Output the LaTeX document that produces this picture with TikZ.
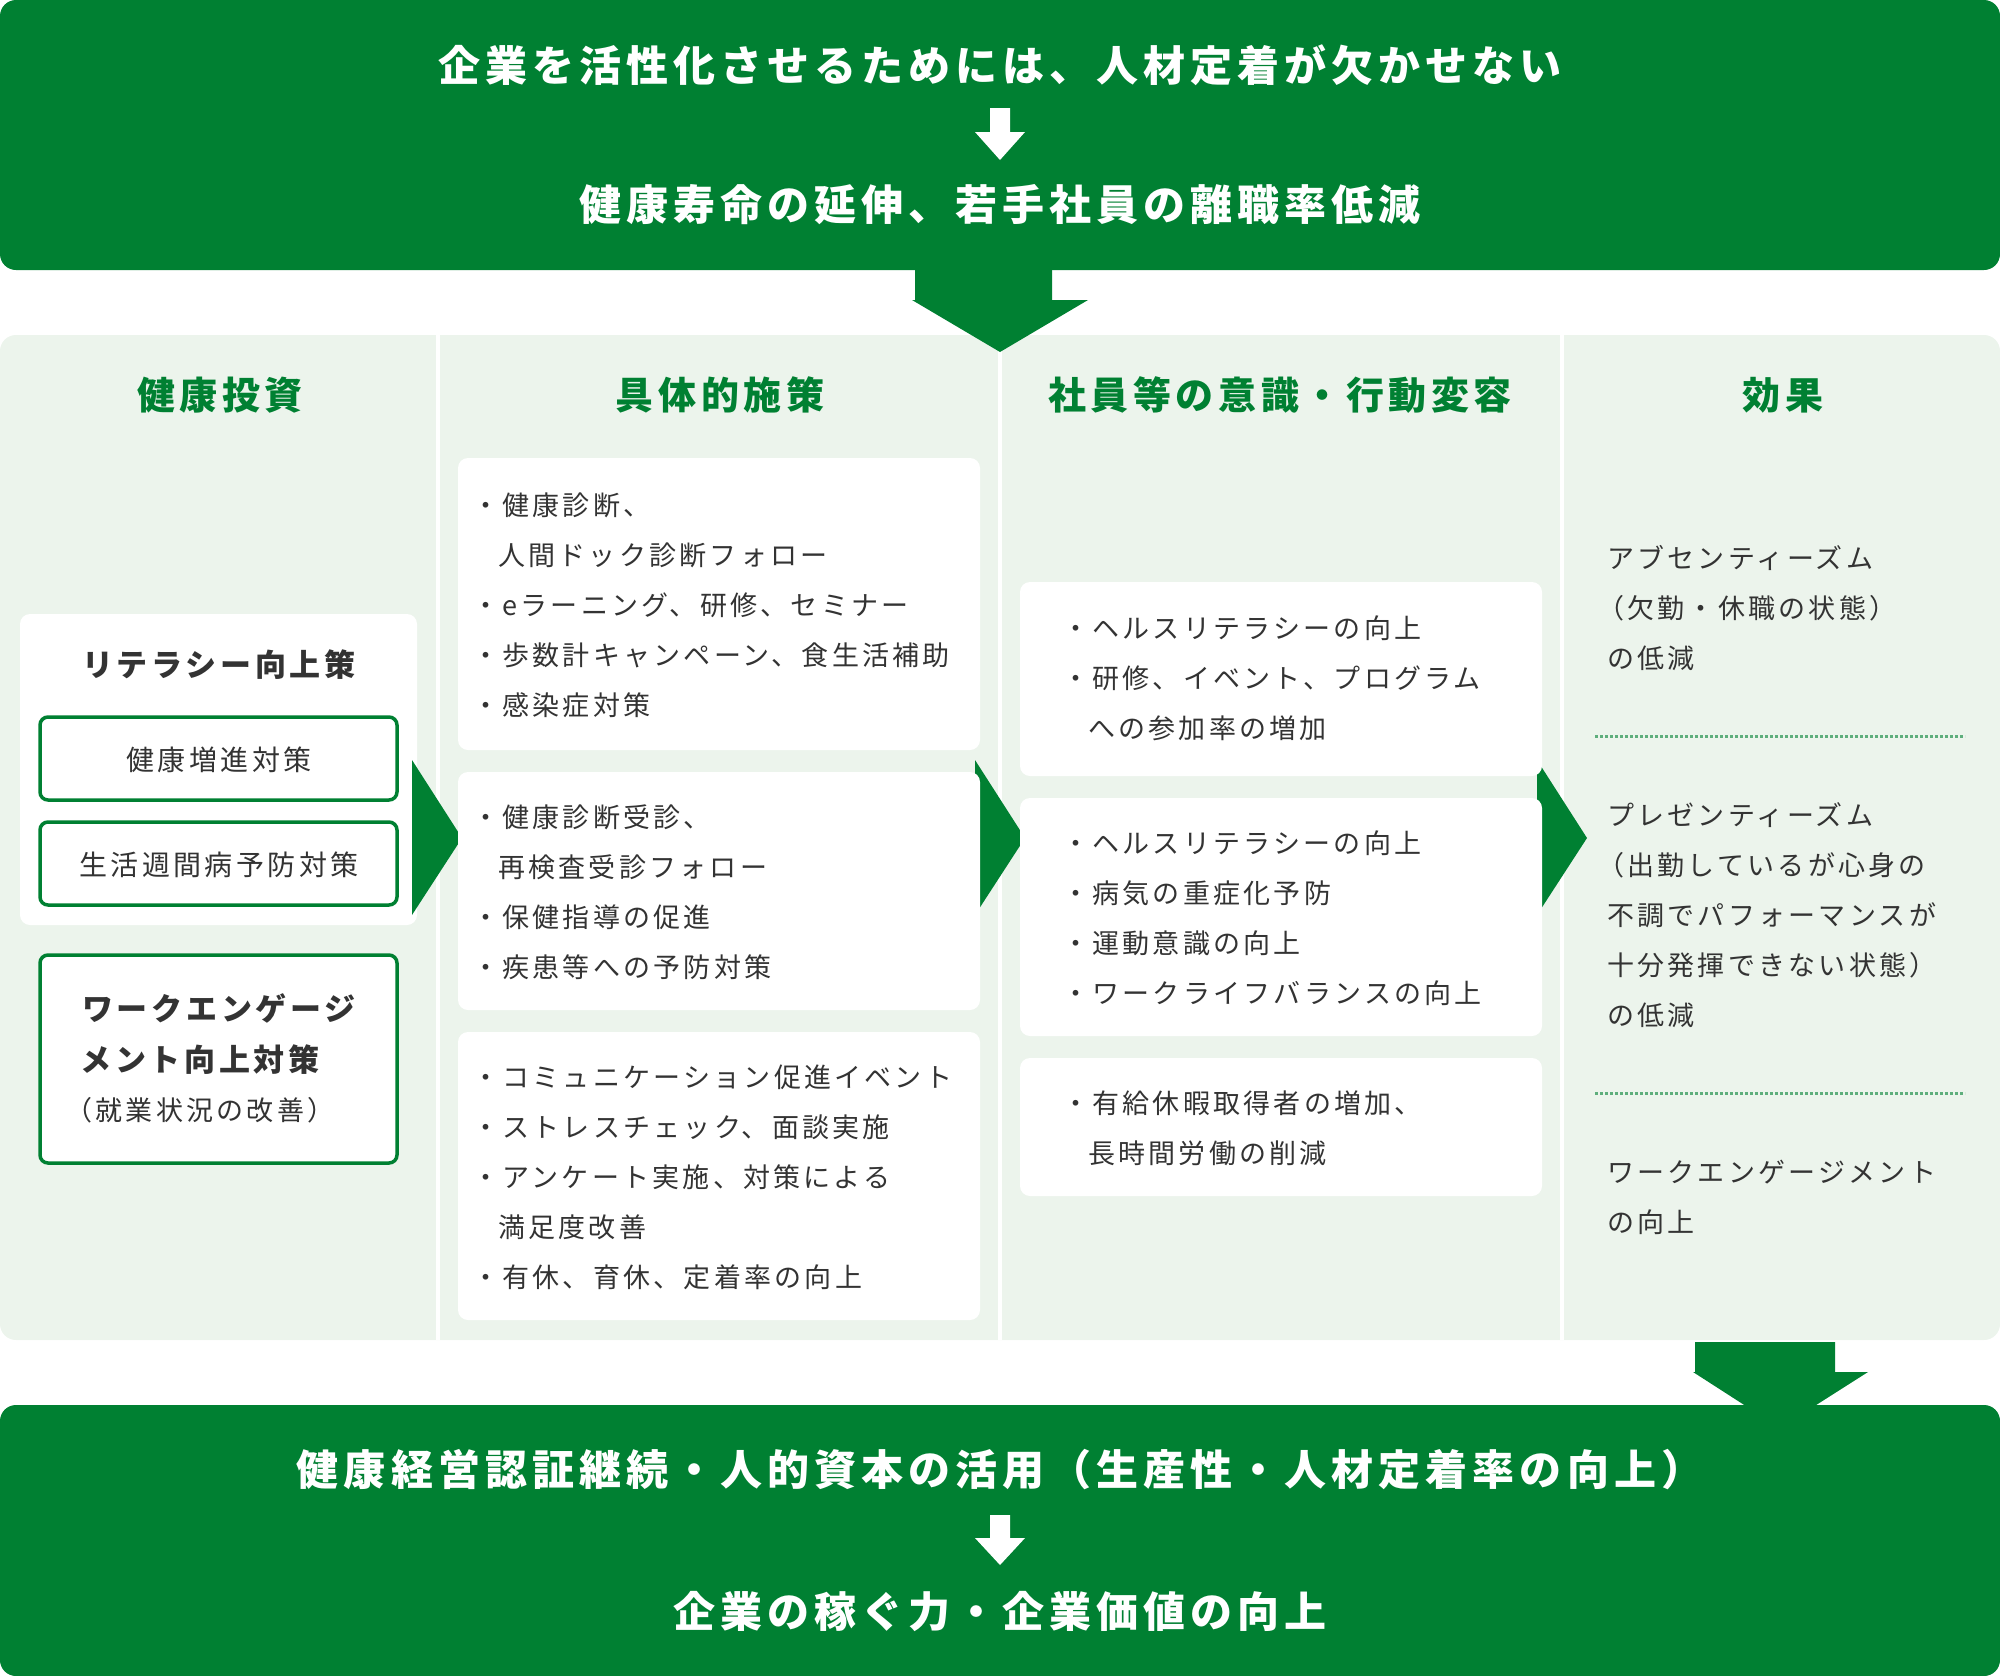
\documentclass[tikz,border=0pt]{standalone}
\usepackage{fontspec}
\setmainfont{Noto Sans CJK JP}[LetterSpace=12]
\definecolor{gr}{RGB}{0,128,50}
\definecolor{pale}{RGB}{236,244,236}
\definecolor{tx}{RGB}{51,51,51}
\begin{document}
\begin{tikzpicture}[x=1pt,y=-1pt,
  ban/.style={text=white,font=\fontsize{42}{42}\selectfont\bfseries,inner sep=0},
  hd/.style={text=gr,font=\fontsize{38}{38}\selectfont\bfseries,inner sep=0},
  bl/.style={text=tx,font=\fontsize{27}{27}\selectfont,anchor=west,inner sep=0},
  wb/.style={fill=white,rounded corners=10pt},
  gb/.style={draw=gr,line width=3.5pt,fill=white,rounded corners=8pt},
  wa/.style={fill=white},
  ga/.style={fill=gr}]
\useasboundingbox (0,0) rectangle (2000,1676);
% top banner
\fill[gr,rounded corners=16pt] (0,0) rectangle (2000,270);
\node[ban] (t1) at (1000,65) {企業を活性化させるためには、人材定着が欠かせない};
\node[ban] (t2) at (1000,205) {健康寿命の延伸、若手社員の離職率低減};
\fill[wa] (990,108)--(1010,108)--(1010,132)--(1025,132)--(1000,160)--(975,132)--(990,132)--cycle;
% panel
\fill[pale,rounded corners=16pt] (0,335) rectangle (2000,1340);
\foreach \x in {438,1000,1562} \fill[white] (\x-2,335) rectangle (\x+2,1340);
\fill[gr] (915,270)--(1052,270)--(1052,300)--(1088,300)--(1000,352)--(912,300)--(915,300)--cycle;
% headers
\node[hd] (h1) at (220,395) {健康投資};
\node[hd] (h2) at (720,395) {具体的施策};
\node[hd] (h3) at (1280,395) {社員等の意識・行動変容};
\node[hd] (h4) at (1783,395) {効果};
% col1
\fill[wb] (20,614) rectangle (417,925);
\node[text=tx,font=\fontsize{31}{31}\selectfont\bfseries,inner sep=0] (lit) at (219,665) {リテラシー向上策};
\draw[gb] (40,717) rectangle (397,800);
\node[text=tx,font=\fontsize{28}{28}\selectfont,inner sep=0] (k1) at (219,760) {健康増進対策};
\draw[gb] (40,822) rectangle (397,905);
\node[text=tx,font=\fontsize{28}{28}\selectfont,inner sep=0] (k2) at (219,865) {生活週間病予防対策};
\draw[gb] (40,955) rectangle (397,1163);
\node[text=tx,font=\fontsize{31}{31}\selectfont\bfseries,inner sep=0] (w1) at (219,1008) {ワークエンゲージ};
\node[text=tx,font=\fontsize{31}{31}\selectfont\bfseries,inner sep=0] (w2) at (200,1060) {メント向上対策};
\node[text=tx,font=\fontsize{27}{27}\selectfont,inner sep=0] (w3) at (200,1110) {（就業状況の改善）};
% arrows
\foreach \x in {412,975,1537} \fill[ga] (\x,760)--(\x+50,838)--(\x,915)--cycle;
% col2
\fill[wb] (458,458) rectangle (980,750);
\fill[wb] (458,772) rectangle (980,1010);
\fill[wb] (458,1032) rectangle (980,1320);
\node[bl] (a1) at (472,505) {・健康診断、};
\node[bl] (a2) at (498,555) {人間ドック診断フォロー};
\node[bl] (a3) at (472,605) {・eラーニング、研修、セミナー};
\node[bl] (a4) at (472,655) {・歩数計キャンペーン、食生活補助};
\node[bl] (a5) at (472,705) {・感染症対策};
\node[bl] (b1) at (472,817) {・健康診断受診、};
\node[bl] (b2) at (498,867) {再検査受診フォロー};
\node[bl] (b3) at (472,917) {・保健指導の促進};
\node[bl] (b4) at (472,967) {・疾患等への予防対策};
\node[bl] (c1) at (472,1077) {・コミュニケーション促進イベント};
\node[bl] (c2) at (472,1127) {・ストレスチェック、面談実施};
\node[bl] (c3) at (472,1177) {・アンケート実施、対策による};
\node[bl] (c4) at (498,1227) {満足度改善};
\node[bl] (c5) at (472,1277) {・有休、育休、定着率の向上};
% col3
\fill[wb] (1020,582) rectangle (1542,776);
\fill[wb] (1020,798) rectangle (1542,1036);
\fill[wb] (1020,1058) rectangle (1542,1196);
\node[bl] (d1) at (1062,628) {・ヘルスリテラシーの向上};
\node[bl] (d2) at (1062,678) {・研修、イベント、プログラム};
\node[bl] (d3) at (1088,728) {への参加率の増加};
\node[bl] (e1) at (1062,843) {・ヘルスリテラシーの向上};
\node[bl] (e2) at (1062,893) {・病気の重症化予防};
\node[bl] (e3) at (1062,943) {・運動意識の向上};
\node[bl] (e4) at (1062,993) {・ワークライフバランスの向上};
\node[bl] (f1) at (1062,1103) {・有給休暇取得者の増加、};
\node[bl] (f2) at (1088,1153) {長時間労働の削減};
% col4
\node[bl] (g1) at (1607,558) {アブセンティーズム};
\node[bl] (g2) at (1597,608) {（欠勤・休職の状態）};
\node[bl] (g3) at (1607,658) {の低減};
\draw[gr!60!pale,line width=3pt,dotted] (1595,736) -- (1965,736);
\node[bl] (p1) at (1607,815) {プレゼンティーズム};
\node[bl] (p2) at (1597,865) {（出勤しているが心身の};
\node[bl] (p3) at (1607,915) {不調でパフォーマンスが};
\node[bl] (p4) at (1607,965) {十分発揮できない状態）};
\node[bl] (p5) at (1607,1015) {の低減};
\draw[gr!60!pale,line width=3pt,dotted] (1595,1093) -- (1965,1093);
\node[bl] (q1) at (1607,1172) {ワークエンゲージメント};
\node[bl] (q2) at (1607,1222) {の向上};
% bottom
\fill[gr,rounded corners=16pt] (0,1405) rectangle (2000,1676);
\fill[gr] (1695,1342)--(1835,1342)--(1835,1372)--(1868,1372)--(1780,1428)--(1693,1372)--(1695,1372)--cycle;
\node[ban] (b5) at (1000,1470) {健康経営認証継続・人的資本の活用（生産性・人材定着率の向上）};
\node[ban] (b6) at (1000,1612) {企業の稼ぐ力・企業価値の向上};
\fill[wa] (990,1515)--(1010,1515)--(1010,1538)--(1025,1538)--(1000,1565)--(975,1538)--(990,1538)--cycle;
\end{tikzpicture}
\end{document}
